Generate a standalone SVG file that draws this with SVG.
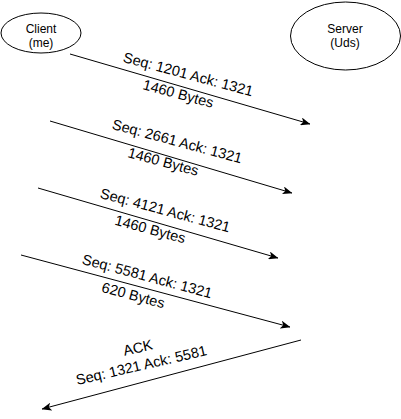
<svg xmlns="http://www.w3.org/2000/svg" width="401" height="419" viewBox="0 0 401 419">
<style>
.node ellipse{fill:#fff;stroke:#000;stroke-width:1}
.nt{font-family:"Liberation Sans",Arial,sans-serif;font-size:12px;fill:#000;text-anchor:middle}
.edge{stroke:#000;stroke-width:1;fill:none;marker-end:url(#arr)}
.lbl{font-family:"Liberation Sans",Arial,sans-serif;font-size:14.5px;fill:#000;text-anchor:middle}
</style>
<defs>
<marker id="arr" viewBox="0 0 10 8" refX="9.5" refY="4" markerWidth="10" markerHeight="8" markerUnits="userSpaceOnUse" orient="auto">
<path d="M0,0 L10,4 L0,8 L2.5,4 Z" fill="#000"/>
</marker>
</defs>
<rect width="401" height="419" fill="#fff"/>
<g id="client" class="node">
<ellipse cx="41" cy="33" rx="40" ry="20"/>
<text class="nt" x="41" y="33">Client</text>
<text class="nt" x="41" y="47">(me)</text>
</g>
<g id="server" class="node">
<ellipse cx="345.5" cy="36" rx="55" ry="34"/>
<text class="nt" x="345" y="33">Server</text>
<text class="nt" x="345" y="47">(Uds)</text>
</g>
<g id="connectors">
<line class="edge" x1="70" y1="54" x2="310" y2="124"/>
<line class="edge" x1="50" y1="121" x2="292" y2="193"/>
<line class="edge" x1="38" y1="188" x2="278" y2="258"/>
<line class="edge" x1="21" y1="255" x2="290" y2="327"/>
<line class="edge" x1="301" y1="340" x2="42" y2="409"/>
</g>
<g id="labels">
<text class="lbl" x="187" y="79" transform="rotate(15 187 79)">Seq: 1201 Ack: 1321</text>
<text class="lbl" x="177" y="98.5" transform="rotate(15 177 98.5)">1460 Bytes</text>
<text class="lbl" x="176" y="146" transform="rotate(15 176 146)">Seq: 2661 Ack: 1321</text>
<text class="lbl" x="162" y="166.5" transform="rotate(15 162 166.5)">1460 Bytes</text>
<text class="lbl" x="164" y="215" transform="rotate(15 164 215)">Seq: 4121 Ack: 1321</text>
<text class="lbl" x="149" y="234" transform="rotate(15 149 234)">1460 Bytes</text>
<text class="lbl" x="146" y="281" transform="rotate(15 146 281)">Seq: 5581 Ack: 1321</text>
<text class="lbl" x="132" y="300" transform="rotate(15 132 300)">620 Bytes</text>
<text class="lbl" x="139" y="352.5" transform="rotate(-13 139 352.5)">ACK</text>
<text class="lbl" x="142.5" y="370" transform="rotate(-13 142.5 370)">Seq: 1321 Ack: 5581</text>
</g>
</svg>
